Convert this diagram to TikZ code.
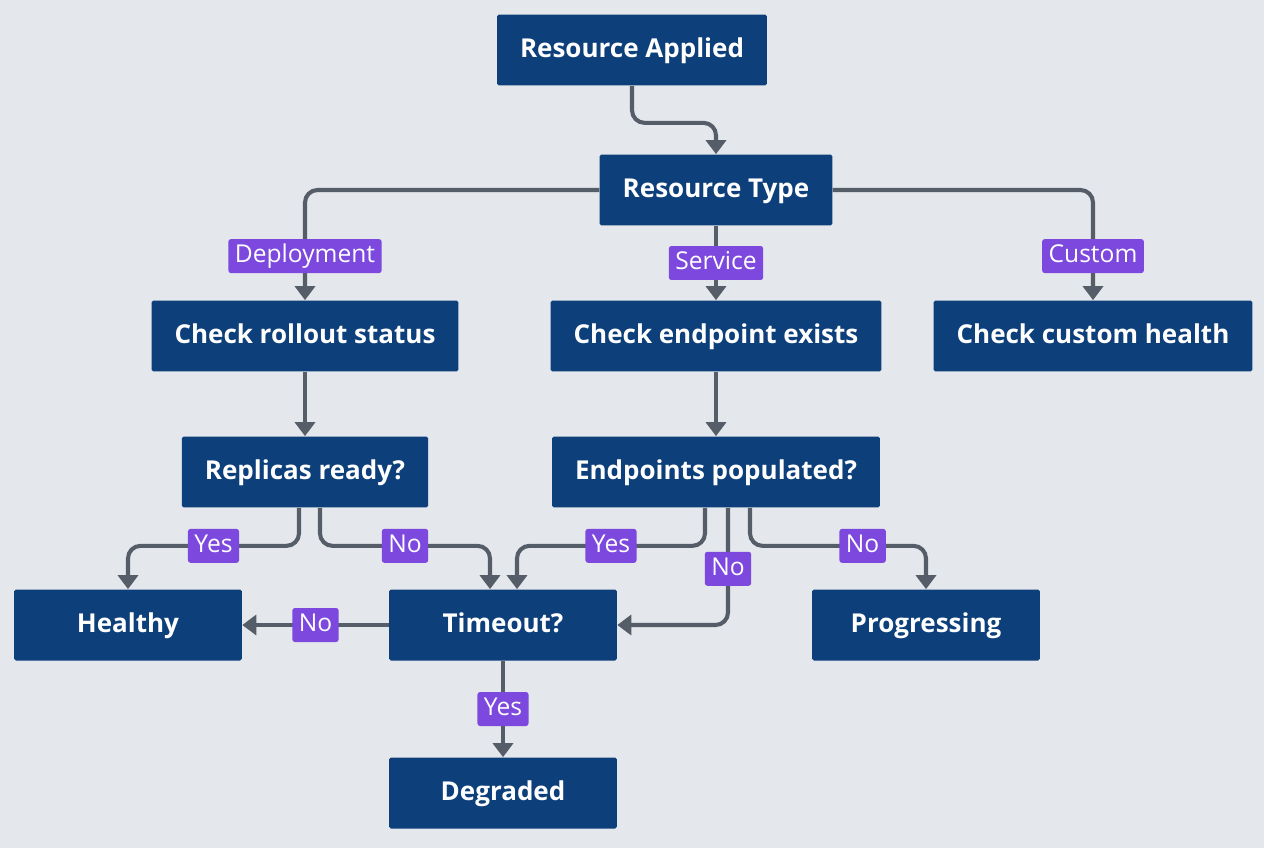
\documentclass[tikz,border=0pt]{standalone}
\usepackage{fontspec}
\setmainfont{Open Sans}
\usetikzlibrary{arrows.meta}
\definecolor{boxblue}{RGB}{13,63,122}
\definecolor{linegray}{RGB}{85,93,105}
\definecolor{tagpurple}{RGB}{124,72,222}
\definecolor{bggray}{RGB}{228,231,235}
\begin{document}
\begin{tikzpicture}[x=0.02cm, y=-0.02cm,
  box/.style={fill=boxblue, text=white, font=\fontsize{14.8}{17}\selectfont\bfseries, minimum width=4.56cm, minimum height=1.42cm, inner xsep=0.46cm, text height=1.7ex, text depth=0.2ex, rounded corners=1pt},
  tag/.style={fill=tagpurple, text=white, font=\fontsize{14}{16}\selectfont, minimum height=0.68cm, inner xsep=0.13cm, inner ysep=0pt, text height=1.7ex, text depth=0.25ex, rounded corners=1.5pt},
  flow/.style={draw=linegray, line width=2.3pt, rounded corners=0.25cm, -{Triangle[width=0.4cm,length=0.28cm]}}]
  \fill[bggray] (0,0) rectangle (1264,848);
  \node[box] (applied) at (632,50) {Resource Applied};
  \node[box] (rtype) at (716,190) {Resource Type};
  \node[box] (rollout) at (305,336) {Check rollout status};
  \node[box] (endpoint) at (716,336) {Check endpoint exists};
  \node[box] (custom) at (1093,336) {Check custom health};
  \node[box] (replicas) at (305,472) {Replicas ready?};
  \node[box] (populated) at (716,472) {Endpoints populated?};
  \node[box] (healthy) at (128,625) {Healthy};
  \node[box] (timeout) at (503,625) {Timeout?};
  \node[box] (progress) at (926,625) {Progressing};
  \node[box] (degraded) at (503,793) {Degraded};

  \draw[flow] (applied.south) -- ++(0,37) -| (rtype.north);
  \draw[flow] (rtype.west) -| node[tag, pos=0.8]{Deployment} (rollout.north);
  \draw[flow] (rtype.south) -- node[tag]{Service} (endpoint.north);
  \draw[flow] (rtype.east) -| node[tag, pos=0.8]{Custom} (custom.north);
  \draw[flow] (rollout.south) -- (replicas.north);
  \draw[flow] (endpoint.south) -- (populated.north);
  \draw[flow] ([xshift=-0.12cm]replicas.south) -- ++(0,38) -| node[tag, pos=0.25]{Yes} (healthy.north);
  \draw[flow] ([xshift=0.3cm]replicas.south) -- ++(0,38) -| node[tag, pos=0.25]{No} ([xshift=-0.26cm]timeout.north);
  \draw[flow] ([xshift=-0.22cm]populated.south) -- ++(0,38) -| node[tag, pos=0.25]{Yes} ([xshift=0.28cm]timeout.north);
  \draw[flow] ([xshift=0.24cm]populated.south) |- node[tag, pos=0.26]{No} (timeout.east);
  \draw[flow] ([xshift=0.68cm]populated.south) -- ++(0,38) -| node[tag, pos=0.32]{No} (progress.north);
  \draw[flow] (timeout.west) -- node[tag]{No} (healthy.east);
  \draw[flow] (timeout.south) -- node[tag]{Yes} (degraded.north);
\end{tikzpicture}
\end{document}
